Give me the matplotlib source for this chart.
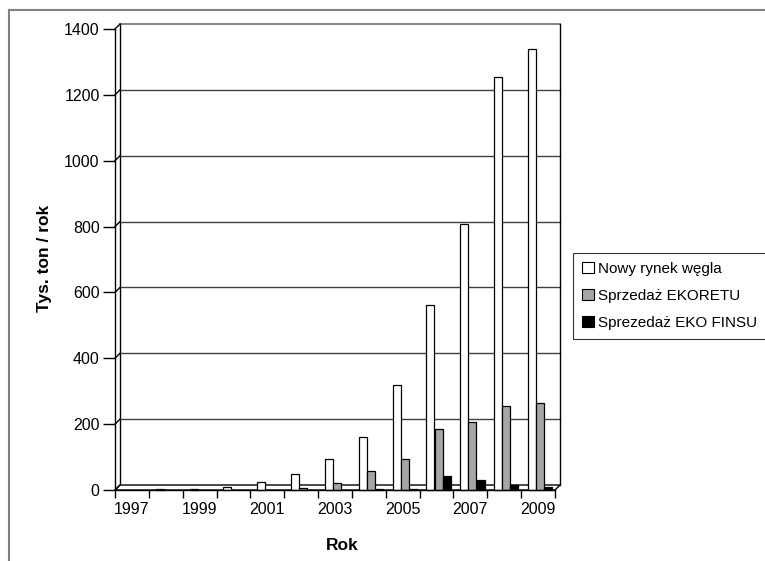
import matplotlib
matplotlib.use('Agg')
import matplotlib.pyplot as plt
from matplotlib.lines import Line2D
from matplotlib.patches import Polygon, Patch
import numpy as np

plt.rcParams['font.family'] = ['Liberation Sans', 'DejaVu Sans']

# ---- data ----
years = list(range(1997, 2010))
nowy_rynek = [0, 3, 3, 8, 25, 50, 95, 162, 318, 561, 808, 1255, 1340]
ekoretu = [0, 0, 0, 0, 0, 7, 21, 58, 95, 185, 206, 255, 264]
eko_finsu = [0, 0, 0, 0, 0, 0, 0, 4, 3, 42, 30, 16, 9]
series_names = ['Nowy rynek węgla', 'Sprzedaż EKORETU', 'Sprezedaż EKO FINSU']
series_values = [nowy_rynek, ekoretu, eko_finsu]
yticks = [0, 200, 400, 600, 800, 1000, 1200, 1400]
xlabels = [str(y) if (y - 1997) % 2 == 0 else '' for y in years]

colors = ['white', '#a6a6a6', 'black']

W, H = 765, 561
fig = plt.figure(figsize=(W / 100, H / 100), dpi=100)
L, R, B, T = 115, 555, 490, 29
ax = fig.add_axes([L / W, 1 - B / H, (R - L) / W, (B - T) / H])
n = len(years)
ymax = 1400
ax.set_xlim(0, n)
ax.set_ylim(0, ymax)
dx = 5 * n / (R - L)
dy = 5 * ymax / (B - T)

for s in ax.spines.values():
    s.set_visible(False)
ax.patch.set_visible(False)

# back wall
grid_c = '#404040'
for v in yticks[1:-1]:
    ax.plot([dx, n + dx], [v + dy, v + dy], color=grid_c, lw=1, clip_on=False, zorder=1)
ax.plot([dx, n + dx], [ymax + dy, ymax + dy], color='#707070', lw=1.2, clip_on=False, zorder=1)
ax.plot([dx, dx], [dy, ymax + dy], color='black', lw=1, clip_on=False, zorder=1)
ax.plot([n + dx, n + dx], [dy, ymax + dy], color='black', lw=1, clip_on=False, zorder=1)
# front left edge and tick diagonals
ax.plot([0, 0], [0, ymax], color='black', lw=1, clip_on=False, zorder=4)
for v in yticks:
    ax.plot([0, dx], [v, v + dy], color='black', lw=1, clip_on=False, zorder=4)
# floor
floor = Polygon([(0, 0), (n, 0), (n + dx, dy), (dx, dy)], closed=True,
                facecolor='white', edgecolor='black', lw=1, clip_on=False, zorder=2)
ax.add_patch(floor)

# bars
x = np.arange(n) + 0.56
bw = 0.235
offs = [-0.24, 0.0, 0.24]
for k, (vals, c, name) in enumerate(zip(series_values, colors, series_names)):
    vals = np.array(vals, dtype=float)
    m = vals > 0
    ax.bar(x[m] + offs[k], vals[m], width=bw, color=c, edgecolor='black',
           lw=0.9, zorder=3, clip_on=False)

ax.plot([0, n], [0, 0], color='black', lw=1, clip_on=False, zorder=4)

# ticks
ax.set_yticks(yticks)
ax.set_yticklabels([str(v) for v in yticks], fontsize=11.5)
ax.tick_params(axis='y', length=9, width=1, pad=2, direction='out')
ax.set_xticks(np.arange(n + 1))
ax.set_xticklabels([''] * (n + 1))
ax.tick_params(axis='x', which='major', length=6, width=1, direction='out')
ax.set_xticks(np.arange(n) + 0.5, minor=True)
ax.set_xticklabels(xlabels, minor=True, fontsize=11.5)
ax.tick_params(axis='x', which='minor', length=0, pad=9)

# axis titles
fig.text(45 / W, 1 - 258 / H, 'Tys. ton / rok', rotation=90, ha='center', va='center',
         fontweight='bold', fontsize=12.5)
fig.text(342 / W, 1 - 545 / H, 'Rok', ha='center', va='center',
         fontweight='bold', fontsize=12.5)

# legend
handles = [Patch(facecolor=c, edgecolor='black', lw=0.8) for c in colors]
leg = fig.legend(handles, series_names, loc='upper left',
                 bbox_to_anchor=(573 / W, 1 - 253 / H), frameon=True, fancybox=False,
                 edgecolor='black', fontsize=11, handlelength=0.75, handleheight=0.75,
                 handletextpad=0.3, labelspacing=0.85, borderpad=0.6, borderaxespad=0)
leg.get_frame().set_linewidth(0.8)

# outer chart-area frame (partly cropped)
fig.add_artist(Line2D([9 / W, 1], [1 - 10 / H, 1 - 10 / H], color='#808080', lw=1.5))
fig.add_artist(Line2D([9 / W, 9 / W], [0, 1 - 10 / H], color='#808080', lw=1.5))

fig.savefig('out.png', dpi=100)
